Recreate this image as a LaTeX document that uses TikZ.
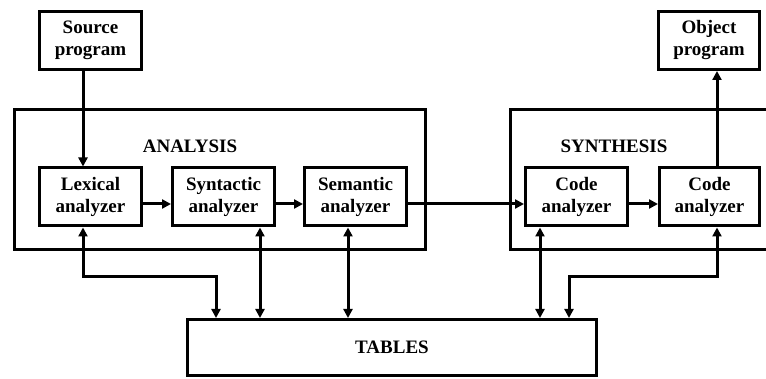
\documentclass[tikz,border=0pt]{standalone}
\usepackage{fontspec}
\setmainfont{Liberation Serif}
\usetikzlibrary{arrows.meta,positioning}

\tikzset{
  unit/.style={shape=rectangle, draw=black, line width=3pt, minimum width=102pt, minimum height=58pt, align=center, inner sep=0pt, font=\fontsize{19}{22}\selectfont\bfseries},
  conn/.style={line width=3pt, -{Triangle[length=9pt,width=9pt]}},
  bothconn/.style={line width=3pt, {Triangle[length=9pt,width=9pt]}-{Triangle[length=9pt,width=9pt]}},
  caption/.style={shape=rectangle, draw=none, font=\fontsize{19}{22}\selectfont\bfseries}
}

\begin{document}
\begin{tikzpicture}[x=1pt, y=-1pt]
\useasboundingbox (0,0) rectangle (766,379);
%%%%%%%%%%%%%%%%%%%%%%%%%%%%%%%%%%%%%%%%%%% HELP LINES
%\draw[help lines] (0,0) grid +(766,379);

%%%%%%%%%%%%%%%%%%%%%%%%%%%%%%%%%%%%%%%%%%% frames
\draw[line width=3pt] (14.5,109.5) rectangle (425.5,249.5);
\node[caption](analysis) at (190,146){ANALYSIS};
\draw[line width=3pt] (770,109.5) -- (510.5,109.5) -- (510.5,249.5) -- (770,249.5);
\node[caption](synthesis) at (614,146){SYNTHESIS};

%%%%%%%%%%%%%%%%%%%%%%%%%%%%%%%%%%%%%%%%%%% elements
\node[unit](source) at (90.5,40.5){Source\\program};
\node[unit](lexical) at (90.5,197){Lexical\\analyzer};
\node[unit](syntactic) at (223.5,197){Syntactic\\analyzer};
\node[unit](semantic) at (355.5,197){Semantic\\analyzer};
\node[unit](code1) at (576.5,197){Code\\analyzer};
\node[unit, minimum width=100pt](code2) at (709.5,197){Code\\analyzer};
\node[unit, minimum width=101pt](object) at (709,40.5){Object\\program};
\node[unit, minimum width=409pt, minimum height=56pt](tables) at (392,347.5){TABLES};

%%%%% flow
\draw[conn] (83,0 |- source.south) -- (83,0 |- lexical.north);
\draw[conn] ([yshift=-7pt]lexical.east) -- ([yshift=-7pt]syntactic.west);
\draw[conn] ([yshift=-7pt]syntactic.east) -- ([yshift=-7pt]semantic.west);
\draw[conn] ([yshift=-7pt]semantic.east) -- ([yshift=-7pt]code1.west);
\draw[conn] ([yshift=-7pt]code1.east) -- ([yshift=-7pt]code2.west);
\draw[conn] (717,0 |- code2.north) -- (717,0 |- object.south);

%%%%% tables
\draw[bothconn] (83,0 |- lexical.south) -- (83,277) -- (216,277) -- (216,0 |- tables.north);
\draw[bothconn] (260,0 |- syntactic.south) -- (260,0 |- tables.north);
\draw[bothconn] (348,0 |- semantic.south) -- (348,0 |- tables.north);
\draw[bothconn] (540,0 |- code1.south) -- (540,0 |- tables.north);
\draw[bothconn] (717,0 |- code2.south) -- (717,277) -- (569,277) -- (569,0 |- tables.north);
\end{tikzpicture}
\end{document}
